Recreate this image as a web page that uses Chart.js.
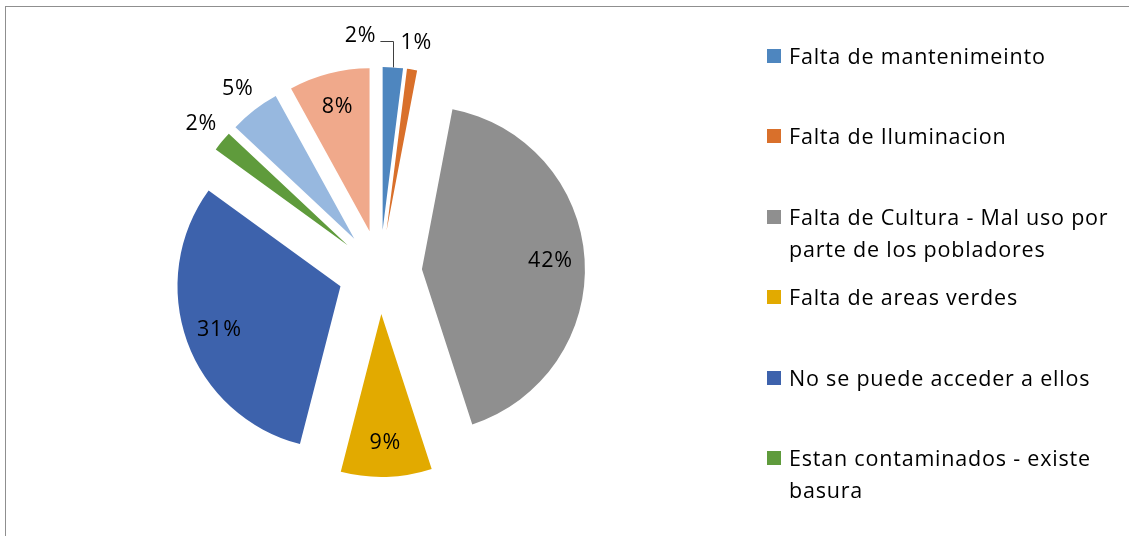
<!DOCTYPE html>
<html>
<head>
<meta charset="utf-8">
<script src="https://cdn.jsdelivr.net/npm/chart.js@4.4.0/dist/chart.umd.min.js"></script>
<style>
html,body{margin:0;padding:0;background:#fff;}
#wrap{width:1129px;height:536px;position:relative;overflow:hidden;}
canvas{display:block;}
</style>
</head>
<body>
<div id="wrap"><canvas id="c" width="1129" height="536"></canvas></div>
<script>
// ---- data ----
const categories = [
  "Falta de mantenimeinto",
  "Falta de Iluminacion",
  ["Falta de Cultura - Mal uso por", "parte de los pobladores"],
  "Falta de areas verdes",
  "No se puede acceder a ellos",
  ["Estan contaminados - existe", "basura"],
  "Categoría 7",
  "Categoría 8"
];
const values = [2, 1, 42, 9, 31, 2, 5, 8];
const colors = ["#4E86BF", "#D9702B", "#8F8F8F", "#E2AA00", "#3D62AC", "#5F9B3C", "#97B8DF", "#F0A98B"];
const legendCount = 6; // legend in the reference shows only the first six entries

// ---- layout / style constants ----
const R = 163;          // pie radius (px)
const EXPLODE = 42;     // explosion distance (px)
const FONT = "'Open Sans', 'Noto Sans', sans-serif";

// Chart.js enlarges and narrows offset arcs; undo that so every exploded slice keeps radius R and its true angle
const arcFix = {
  id: 'arcFix',
  afterUpdate(chart) {
    chart.getDatasetMeta(0).data.forEach(arc => {
      const off = (arc.options.offset || 0) / 4;
      const fix = 1 - Math.sin(Math.min(Math.PI, arc.circumference || 0));
      const rOff = off * fix;
      arc.outerRadius = R - rOff;
      const widen = rOff / Math.PI / R / 2;
      arc.startAngle = arc.startAngle - widen;
      arc.endAngle = arc.endAngle + widen;
    });
  }
};

const frame = {
  id: 'frame',
  beforeDraw(chart) {
    const ctx = chart.ctx;
    ctx.save();
    ctx.fillStyle = '#fff';
    ctx.fillRect(0, 0, chart.width, chart.height);
    ctx.fillStyle = '#8f8f8f';
    ctx.fillRect(5, 6, 1, chart.height - 6);
    ctx.fillRect(5, 6, chart.width - 5, 1);
    ctx.restore();
  }
};

const pctLabels = {
  id: 'pctLabels',
  afterDatasetsDraw(chart) {
    const ctx = chart.ctx;
    ctx.save();
    ctx.font = "21.5px " + FONT;
    try { ctx.letterSpacing = '0.8px'; } catch (e) {}
    ctx.fillStyle = '#000';
    ctx.textAlign = 'center';
    ctx.textBaseline = 'middle';
    chart.getDatasetMeta(0).data.forEach((arc, i) => {
      const mid = (arc.startAngle + arc.endAngle) / 2;
      const off = (arc.options.offset || 0) / 4;
      const cx = arc.x + Math.cos(mid) * off;
      const cy = arc.y + Math.sin(mid) * off;
      const outside = values[i] <= 5;
      const dist = outside ? R + 27 : R * 0.79;
      let lx = cx + Math.cos(mid) * dist;
      let ly = cy + Math.sin(mid) * dist;
      const txt = values[i] + '%';
      if (i === 0) {
        // label moved aside with a leader line
        const ax = cx + Math.cos(mid) * R;
        const ay = cy + Math.sin(mid) * R;
        lx -= 34; ly -= 5;
        const w = ctx.measureText(txt).width;
        ctx.strokeStyle = '#404040';
        ctx.lineWidth = 1;
        ctx.beginPath();
        const vx = Math.round(ax) + 0.5;
        const hy = Math.round(ly + 6) + 0.5;
        ctx.moveTo(vx, ay);
        ctx.lineTo(vx, hy);
        ctx.lineTo(lx + w / 2 + 4, hy);
        ctx.stroke();
      }
      ctx.fillText(txt, lx, ly);
    });
    ctx.restore();
  }
};

const sideLegend = {
  id: 'sideLegend',
  afterDraw(chart) {
    const ctx = chart.ctx;
    const sqX = 767, txtX = 789, base0 = 64, step = 80.4, lineH = 32, sq = 14;
    ctx.save();
    ctx.font = "21.5px " + FONT;
    try { ctx.letterSpacing = '0.8px'; } catch (e) {}
    ctx.textAlign = 'left';
    ctx.textBaseline = 'alphabetic';
    for (let i = 0; i < legendCount; i++) {
      const base = base0 + i * step;
      ctx.fillStyle = colors[i];
      ctx.fillRect(sqX, Math.round(base - 15), sq, sq);
      ctx.fillStyle = '#000';
      const lines = Array.isArray(categories[i]) ? categories[i] : [categories[i]];
      lines.forEach((ln, k) => ctx.fillText(ln, txtX, base + k * lineH));
    }
    ctx.restore();
  }
};

new Chart(document.getElementById('c').getContext('2d'), {
  type: 'pie',
  data: {
    labels: categories,
    datasets: [{
      data: values,
      backgroundColor: colors,
      borderWidth: 0,
      offset: EXPLODE * 4,
      hoverOffset: EXPLODE * 4
    }]
  },
  options: {
    responsive: false,
    animation: false,
    events: [],
    radius: R,
    layout: { padding: { left: 0, right: 369, top: 8, bottom: 0 } },
    plugins: {
      legend: { display: false },
      tooltip: { enabled: false }
    }
  },
  plugins: [frame, arcFix, pctLabels, sideLegend]
});
</script>
</body>
</html>
